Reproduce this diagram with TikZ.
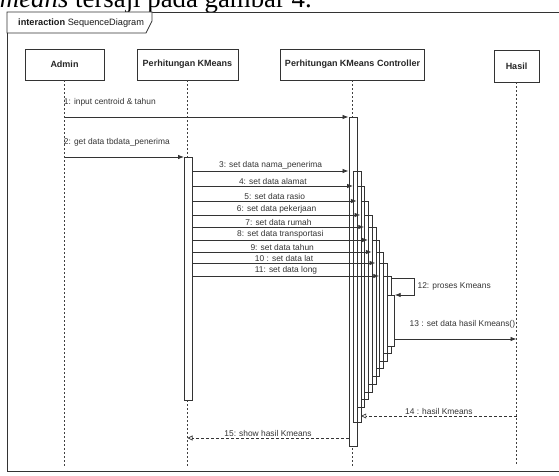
\documentclass[tikz,border=0pt]{standalone}
\usepackage{fontspec}
\setmainfont{Liberation Sans}
\newfontfamily\docserif{Liberation Serif}
\usetikzlibrary{arrows.meta,positioning}
\tikzset{
  head/.style={
    draw=black!80,
    fill=white,
    line width=0.7pt,
    minimum height=31pt,
    inner sep=0pt,
    font=\fontsize{9}{10}\selectfont\bfseries,
    text=black!85
  },
  actbar/.style={
    draw=black!80,
    line width=0.7pt,
    minimum width=7.5pt,
    inner sep=0pt,
    anchor=north west
  },
  lifeline/.style={draw=black!75, line width=0.7pt, dash pattern=on 2pt off 2pt},
  frame/.style={draw=black!80, line width=0.8pt},
  lbl/.style={font=\fontsize{8.4}{9}\selectfont, text=black!80, inner sep=1pt},
  msg/.style={-{Latex[length=6pt,width=4.5pt]}, draw=black!80, line width=0.8pt},
  reply/.style={-{Triangle[open,length=5pt,width=5pt]}, draw=black!80, line width=0.7pt, dash pattern=on 3pt off 2pt}
}

\begin{document}
\begin{tikzpicture}[x=1pt, y=-1pt]
  \useasboundingbox (0,0) rectangle (559,476);
  \clip (0,0) rectangle (559,476);

  % line of the page above the figure
  \node[font=\docserif\fontsize{26.8}{30}\selectfont, anchor=base east, inner sep=0pt] (caption) at (312,8) {\textit{Kmeans} tersaji pada gambar 4.};

  % frame
  \draw[frame] (7,12) rectangle (566,471);
  \draw[frame, fill=white] (7,12) -- (152,12) -- (152,21) -- (146,33) -- (7,33) -- cycle;
  \node[lbl, anchor=west, text=black!90, font=\fontsize{9.2}{10}\selectfont] (tab) at (17,23) {\textbf{interaction} SequenceDiagram};

  % lifelines
  \node[head, minimum width=79pt] (admin) at (64.5,64.5) {Admin};
  \node[head, minimum width=101pt] (pk) at (187.5,64.5) {Perhitungan KMeans};
  \node[head, minimum width=144pt] (ctrl) at (352.5,64.5) {Perhitungan KMeans Controller};
  \node[head, minimum width=45pt, minimum height=32pt] (hasil) at (516.5,66) {Hasil};

  \coordinate (bottom) at (0,466);
  \draw[lifeline] (admin.south) -- (admin.south |- bottom);
  \draw[lifeline] (pk.south) -- (pk.south |- bottom);
  \draw[lifeline] (ctrl.south) -- (ctrl.south |- bottom);
  \draw[lifeline] (hasil.south) -- (hasil.south |- bottom);

  % activations
  \node[actbar, fill=white, minimum width=8pt, minimum height=329pt] (actA) at (348.5,117) {};
  \node[actbar, fill=white, minimum width=8pt, minimum height=243pt] (actB) at (184,157) {};
  \node[actbar, minimum height=251pt] (act3) at (353,171) {};
  \node[actbar, minimum height=221pt] (act4) at (356.75,186) {};
  \node[actbar, minimum height=198pt] (act5) at (360.5,201) {};
  \node[actbar, minimum height=177pt] (act6) at (364.25,215) {};
  \node[actbar, minimum height=157pt] (act7) at (368,227) {};
  \node[actbar, minimum height=136pt] (act8) at (371.75,240) {};
  \node[actbar, minimum height=116pt] (act9) at (375.5,252) {};
  \node[actbar, minimum height=98pt] (act10) at (379.25,263) {};
  \node[actbar, minimum height=77pt] (act11) at (383,276) {};
  \node[actbar, fill=white, minimum width=7pt, minimum height=51pt] (act12) at (387,295) {};

  % messages
  \draw[msg] (admin |- actA.north) -- node[lbl, pos=0, anchor=south west, xshift=-2pt, yshift=9pt] {1: input centroid \& tahun} (actA.north west);
  \draw[msg] (admin |- actB.north) -- node[lbl, pos=0, anchor=south west, xshift=-2pt, yshift=9pt] {2: get data tbdata\_penerima} (actB.north west);

  \draw[msg] (actB.east |- act3.north) -- node[lbl, above] {3: set data nama\_penerima} (actA.west |- act3.north);
  \draw[msg] (actB.east |- act4.north) -- node[lbl, above] {4: set data alamat} (act3.west |- act4.north);
  \draw[msg] (actB.east |- act5.north) -- node[lbl, above] {5: set data rasio} (act4.west |- act5.north);
  \draw[msg] (actB.east |- act6.north) -- node[lbl, above] {6: set data pekerjaan} (act5.west |- act6.north);
  \draw[msg] (actB.east |- act7.north) -- node[lbl, above] {7: set data rumah} (act6.west |- act7.north);
  \draw[msg] (actB.east |- act8.north) -- node[lbl, above] {8: set data transportasi} (act7.west |- act8.north);
  \draw[msg] (actB.east |- act9.north) -- node[lbl, above] {9: set data tahun} (act8.west |- act9.north);
  \draw[msg] (actB.east |- act10.north) -- node[lbl, above] {10 : set data lat} (act9.west |- act10.north);
  \draw[msg] (actB.east |- act11.north) -- node[lbl, above] {11: set data long} (act10.west |- act11.north);

  \draw[msg] ([yshift=-2pt]act11.north east) -- ++(23,0) |- node[lbl, pos=0.25, right=2pt] {12: proses Kmeans} (act12.north east);

  \coordinate (m13) at (0,339);
  \coordinate (m14) at (0,416);
  \coordinate (m15) at (0,438);
  \draw[msg] (act12.east |- m13) -- node[lbl, pos=1, anchor=south east, yshift=9pt] {13 : set data hasil Kmeans()} (hasil |- m13);
  \draw[reply] (hasil |- m14) -- node[lbl, above] {14 : hasil Kmeans} (act3.east |- m14);
  \draw[reply] (actA.west |- m15) -- node[lbl, above] {15: show hasil Kmeans} (pk |- m15);
\end{tikzpicture}
\end{document}
